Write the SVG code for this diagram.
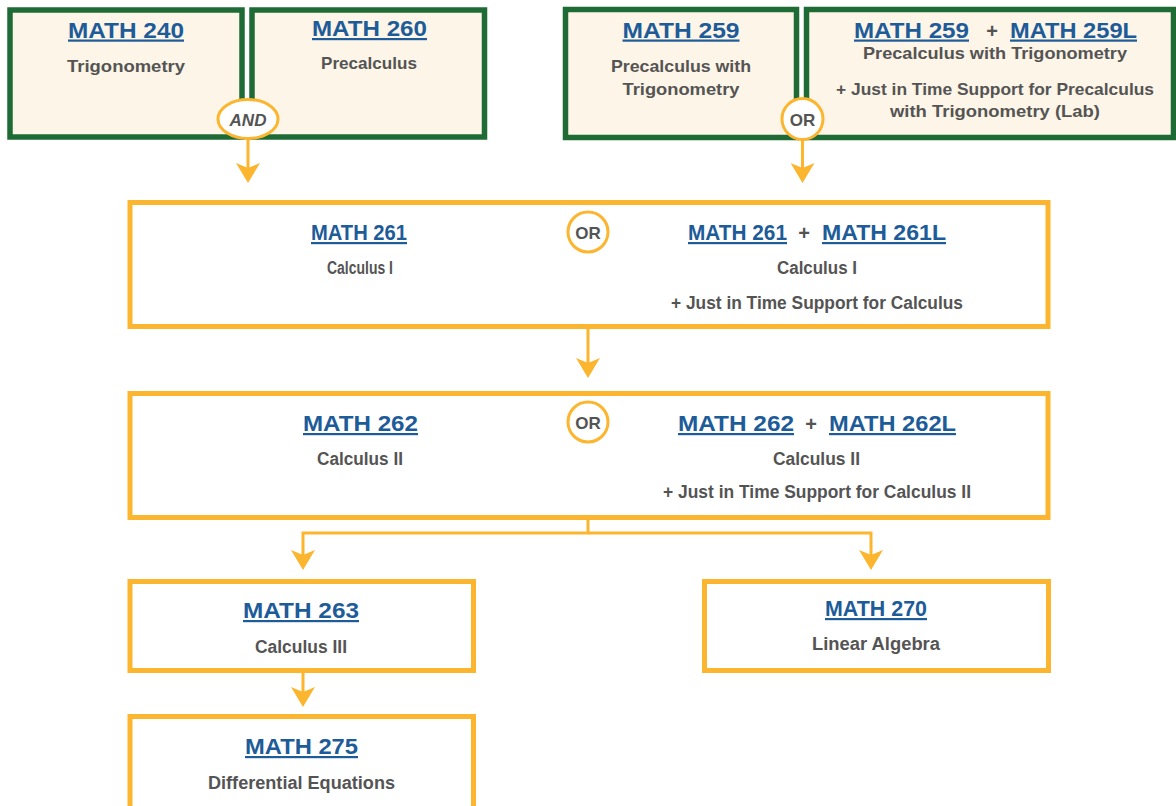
<svg xmlns="http://www.w3.org/2000/svg" width="1176" height="806" viewBox="0 0 1176 806">
<style>
.g{fill:#fdf5e7;stroke:#1f6b36;stroke-width:5.5}
.o{fill:#ffffff;stroke:#fbb52e;stroke-width:5}
.badge{fill:#ffffff;stroke:#fbb52e;stroke-width:3}
.t{font-family:"Liberation Sans",Arial,sans-serif;font-weight:bold;font-size:22px;fill:#1d5c99;text-decoration:underline;text-anchor:middle}
.s{font-family:"Liberation Sans",Arial,sans-serif;font-weight:bold;font-size:16.5px;fill:#545454;text-anchor:middle}
.m{font-size:17.5px}
.p{font-family:"Liberation Sans",Arial,sans-serif;font-weight:bold;font-size:20px;fill:#545454;text-anchor:middle}
.b{font-family:"Liberation Sans",Arial,sans-serif;font-weight:bold;font-size:17px;fill:#545454;text-anchor:middle}
.c{fill:none;stroke:#fbb52e;stroke-width:3}
</style>
<defs>
<marker id="ah" markerUnits="userSpaceOnUse" markerWidth="22" markerHeight="24" viewBox="0 0 22 24" refX="12" refY="12" orient="auto">
<path d="M0,0 L20,12 L0,24 L5,12 Z" fill="#fbb52e"/>
</marker>
</defs>

<g id="connectors">
<line class="c" x1="248" y1="138" x2="248" y2="175" marker-end="url(#ah)"/>
<line class="c" x1="802.5" y1="139" x2="802.5" y2="175" marker-end="url(#ah)"/>
<line class="c" x1="588" y1="329" x2="588" y2="370" marker-end="url(#ah)"/>
<path class="c" d="M588,520 V533 H303 V562" marker-end="url(#ah)"/>
<path class="c" d="M588,533 H871 V562" marker-end="url(#ah)"/>
<line class="c" x1="303" y1="673" x2="303" y2="699" marker-end="url(#ah)"/>
</g>

<g id="math240">
<rect class="g" x="10" y="10" width="232" height="127"/>
<text class="t" x="126" y="37.5" textLength="116" lengthAdjust="spacingAndGlyphs">MATH 240</text>
<text class="s" x="126" y="72" textLength="118" lengthAdjust="spacingAndGlyphs">Trigonometry</text>
</g>
<g id="math260">
<rect class="g" x="252" y="10" width="232.5" height="127"/>
<text class="t" x="369.5" y="36" textLength="115" lengthAdjust="spacingAndGlyphs">MATH 260</text>
<text class="s" x="369" y="69" textLength="96" lengthAdjust="spacingAndGlyphs">Precalculus</text>
</g>
<g id="and-badge">
<ellipse class="badge" cx="248" cy="119" rx="30" ry="19.5"/>
<text class="b" x="248" y="125.5" font-style="italic">AND</text>
</g>

<g id="math259">
<rect class="g" x="565.5" y="9.5" width="231" height="128"/>
<text class="t" x="681" y="37.5" textLength="117" lengthAdjust="spacingAndGlyphs">MATH 259</text>
<text class="s" x="681" y="72" textLength="140" lengthAdjust="spacingAndGlyphs">Precalculus with</text>
<text class="s" x="681" y="95" textLength="117" lengthAdjust="spacingAndGlyphs">Trigonometry</text>
</g>
<g id="math259-259l">
<rect class="g" x="806.5" y="9.5" width="367" height="128"/>
<text class="t" x="911.5" y="37.5" textLength="115" lengthAdjust="spacingAndGlyphs">MATH 259</text>
<text class="p" x="992" y="37.5">+</text>
<text class="t" x="1073.5" y="37.5" textLength="127" lengthAdjust="spacingAndGlyphs">MATH 259L</text>
<text class="s" x="995" y="59" textLength="264" lengthAdjust="spacingAndGlyphs">Precalculus with Trigonometry</text>
<text class="s" x="995" y="95" textLength="318" lengthAdjust="spacingAndGlyphs">+ Just in Time Support for Precalculus</text>
<text class="s" x="995" y="117" textLength="210" lengthAdjust="spacingAndGlyphs">with Trigonometry (Lab)</text>
</g>
<g id="or-badge-top">
<circle class="badge" cx="802.5" cy="119" r="20.5"/>
<text class="b" x="802.5" y="125.5">OR</text>
</g>

<g id="math261">
<rect class="o" x="130" y="202.5" width="918" height="124"/>
<text class="t" x="359" y="240" textLength="96" lengthAdjust="spacingAndGlyphs">MATH 261</text>
<text class="s m" x="360" y="274" textLength="66" lengthAdjust="spacingAndGlyphs">Calculus I</text>
<circle class="badge" cx="588" cy="232" r="20"/>
<text class="b" x="588" y="238.5">OR</text>
<text class="t" x="737.5" y="240" textLength="99" lengthAdjust="spacingAndGlyphs">MATH 261</text>
<text class="p" x="804" y="240">+</text>
<text class="t" x="884" y="240" textLength="124" lengthAdjust="spacingAndGlyphs">MATH 261L</text>
<text class="s m" x="817" y="274" textLength="80" lengthAdjust="spacingAndGlyphs">Calculus I</text>
<text class="s m" x="817" y="309" textLength="292" lengthAdjust="spacingAndGlyphs">+ Just in Time Support for Calculus</text>
</g>

<g id="math262">
<rect class="o" x="130" y="393.5" width="918" height="124"/>
<text class="t" x="360.5" y="431" textLength="115" lengthAdjust="spacingAndGlyphs">MATH 262</text>
<text class="s m" x="360" y="465" textLength="86" lengthAdjust="spacingAndGlyphs">Calculus II</text>
<circle class="badge" cx="588" cy="422" r="20"/>
<text class="b" x="588" y="428.5">OR</text>
<text class="t" x="736" y="431" textLength="116" lengthAdjust="spacingAndGlyphs">MATH 262</text>
<text class="p" x="811" y="431">+</text>
<text class="t" x="892.5" y="431" textLength="127" lengthAdjust="spacingAndGlyphs">MATH 262L</text>
<text class="s m" x="816.5" y="465" textLength="87" lengthAdjust="spacingAndGlyphs">Calculus II</text>
<text class="s m" x="817" y="498" textLength="308" lengthAdjust="spacingAndGlyphs">+ Just in Time Support for Calculus II</text>
</g>

<g id="math263">
<rect class="o" x="130" y="581.5" width="343.5" height="89"/>
<text class="t" x="301" y="618" textLength="116" lengthAdjust="spacingAndGlyphs">MATH 263</text>
<text class="s m" x="301" y="653" textLength="92" lengthAdjust="spacingAndGlyphs">Calculus III</text>
</g>

<g id="math270">
<rect class="o" x="704.5" y="581.5" width="344" height="89"/>
<text class="t" x="876" y="616" textLength="102" lengthAdjust="spacingAndGlyphs">MATH 270</text>
<text class="s m" x="876" y="650" textLength="128" lengthAdjust="spacingAndGlyphs">Linear Algebra</text>
</g>

<g id="math275">
<rect class="o" x="130" y="716.5" width="343.5" height="110"/>
<text class="t" x="301.5" y="754" textLength="113" lengthAdjust="spacingAndGlyphs">MATH 275</text>
<text class="s m" x="301.5" y="789" textLength="187" lengthAdjust="spacingAndGlyphs">Differential Equations</text>
</g>
</svg>
